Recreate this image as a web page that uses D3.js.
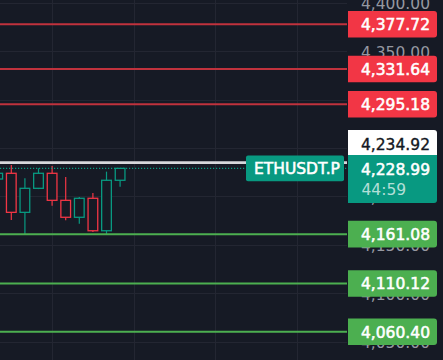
<!DOCTYPE html>
<html>
<head>
<meta charset="utf-8">
<script src="https://cdn.jsdelivr.net/npm/d3@7"></script>
<style>
  html, body { margin: 0; padding: 0; background: #161a25; overflow: hidden; }
  svg { display: block; font-family: "DejaVu Sans", sans-serif; }
</style>
</head>
<body>
<div id="chart"></div>
<script>
const width = 443;
const height = 360;
const plotRight = 347;
const axisLeft = 348;

// hourly candles, ETHUSDT.P
const startTime = new Date(2025, 7, 14, 8, 0);
const opens  = [4218.0, 4223.9, 4183.6, 4208.4, 4223.9, 4196.0, 4178.5, 4198.1, 4164.6, 4216.7];
const highs  = [4225.0, 4232.5, 4218.7, 4229.1, 4231.4, 4220.1, 4199.4, 4203.6, 4225.6, 4229.5];
const lows   = [4216.0, 4175.7, 4161.2, 4207.6, 4190.5, 4175.4, 4171.9, 4163.3, 4160.9, 4210.1];
const closes = [4223.9, 4183.6, 4208.4, 4223.9, 4196.0, 4178.5, 4198.1, 4164.6, 4216.7, 4228.99];

const resistance = [4377.72, 4331.64, 4295.18];
const support = [4161.08, 4110.12, 4060.40];
const markPrice = 4234.92;
const lastPrice = 4228.99;
const symbol = "ETHUSDT.P";
const countdown = "44:59";
const priceTicks = [4400, 4350, 4300, 4250, 4200, 4150, 4100, 4050];

const candles = opens.map((o, i) => ({
  t: d3.timeHour.offset(startTime, i),
  o, h: highs[i], l: lows[i], c: closes[i]
}));

const bg = "#161a25";
const up = "#089981";
const down = "#f23645";
const grid = "#232632";
const fontSize = 15.5;

const barStep = 13.6; // px per hour
const hour = 3600 * 1000;
const firstX = -2.3; // first candle is half cut off at the left edge
const x = d3.scaleTime()
  .domain([new Date(+startTime - (firstX / barStep) * hour),
           new Date(+startTime + ((plotRight - firstX) / barStep) * hour)])
  .range([0, plotRight]);

const y = d3.scaleLinear().domain([4031.17, 4402.8]).range([height, 0]);

const svg = d3.select("#chart").append("svg")
  .attr("width", width).attr("height", height);

svg.append("rect").attr("width", width).attr("height", height).attr("fill", bg);

// grid
svg.append("g").selectAll("line")
  .data(x.ticks(d3.timeHour.every(6)))
  .join("line")
  .attr("x1", d => Math.round(x(d)) + 0.5).attr("x2", d => Math.round(x(d)) + 0.5)
  .attr("y1", 0).attr("y2", height)
  .attr("stroke", grid);

svg.append("g").selectAll("line")
  .data(priceTicks)
  .join("line")
  .attr("x1", 0).attr("x2", plotRight)
  .attr("y1", d => Math.round(y(d)) + 0.5).attr("y2", d => Math.round(y(d)) + 0.5)
  .attr("stroke", grid);

// price axis labels (under the price boxes)
const fmt = d3.format(",.2f");
const yAxis = d3.axisRight(y).tickValues(priceTicks).tickFormat(fmt).tickSize(0).tickPadding(0);
const axisG = svg.append("g")
  .attr("transform", `translate(${430}, 0)`)
  .call(yAxis);
axisG.select(".domain").remove();
axisG.selectAll("text")
  .attr("x", 0)
  .attr("dy", "0.38em")
  .attr("text-anchor", "end")
  .attr("fill", "#9598a1")
  .attr("font-size", fontSize)
  .attr("font-family", "DejaVu Sans, sans-serif");

// candles
const cg = svg.append("g");
const bodyW = 9.7;
cg.selectAll("line")
  .data(candles)
  .join("line")
  .attr("x1", d => x(d.t)).attr("x2", d => x(d.t))
  .attr("y1", d => y(d.h)).attr("y2", d => y(d.l))
  .attr("stroke", d => d.c >= d.o ? up : down)
  .attr("stroke-width", 1.2);
cg.selectAll("rect")
  .data(candles)
  .join("rect")
  .attr("x", d => x(d.t) - bodyW / 2)
  .attr("width", bodyW)
  .attr("y", d => y(Math.max(d.o, d.c)))
  .attr("height", d => Math.max(1, Math.abs(y(d.o) - y(d.c))))
  .attr("fill", bg)
  .attr("stroke", d => d.c >= d.o ? up : down)
  .attr("stroke-width", 1.3);

// mark price line and last price dotted line
svg.append("line")
  .attr("x1", 0).attr("x2", plotRight)
  .attr("y1", y(markPrice)).attr("y2", y(markPrice))
  .attr("stroke", "#d6d7db").attr("stroke-width", 2.7);
svg.append("line")
  .attr("x1", 0).attr("x2", plotRight)
  .attr("y1", y(lastPrice)).attr("y2", y(lastPrice))
  .attr("stroke", up).attr("stroke-width", 1.2)
  .attr("stroke-dasharray", "1.2,1.8");

// horizontal levels
const levels = resistance.map(p => ({ p, line: "#c0323d", box: down }))
  .concat(support.map(p => ({ p, line: "#4caf50", box: "#4caf50" })));

svg.append("g").selectAll("line")
  .data(levels)
  .join("line")
  .attr("x1", 0).attr("x2", plotRight)
  .attr("y1", d => y(d.p)).attr("y2", d => y(d.p))
  .attr("stroke", d => d.line).attr("stroke-width", 2);

// price box: square left corners, rounded right
function boxPath(x0, y0, w, h, rTop, rBot) {
  return `M${x0},${y0}H${x0 + w - rTop}Q${x0 + w},${y0} ${x0 + w},${y0 + rTop}` +
    `V${y0 + h - rBot}Q${x0 + w},${y0 + h} ${x0 + w - rBot},${y0 + h}H${x0}Z`;
}

// slightly heavier label text
function heavy(sel, color) {
  sel.attr("fill", color)
    .attr("stroke", color)
    .attr("stroke-width", 0.55)
    .attr("font-size", fontSize);
}

const boxW = 89;
const boxH = 26.6;
const lg = svg.append("g").selectAll("g")
  .data(levels)
  .join("g");
lg.append("path")
  .attr("d", d => boxPath(axisLeft, y(d.p) - boxH / 2, boxW, boxH, 3, 3))
  .attr("fill", d => d.box);
lg.append("text")
  .attr("x", 430).attr("y", d => y(d.p))
  .attr("dy", "0.38em")
  .attr("text-anchor", "end")
  .call(heavy, "#ffffff")
  .text(d => fmt(d.p));

// mark price box (pushed up above last price box)
svg.append("path")
  .attr("d", boxPath(axisLeft, 130, boxW, 25, 3, 0))
  .attr("fill", "#ffffff");
svg.append("text")
  .attr("x", 430).attr("y", 150)
  .attr("text-anchor", "end")
  .call(heavy, "#131722")
  .attr("stroke-width", 0.35)
  .text(fmt(markPrice));

// last price box with countdown
svg.append("path")
  .attr("d", boxPath(axisLeft, 155, boxW, 48, 0, 3))
  .attr("fill", up);
svg.append("text")
  .attr("x", 430).attr("y", 175)
  .attr("text-anchor", "end")
  .call(heavy, "#ffffff")
  .text(fmt(lastPrice));
svg.append("text")
  .attr("x", 361.5).attr("y", 195)
  .attr("text-anchor", "start")
  .call(heavy, "rgba(255,255,255,0.7)")
  .attr("stroke", "none")
  .text(countdown);

// symbol label
const symW = 98;
svg.append("rect")
  .attr("x", 246).attr("y", y(lastPrice) - 12.8)
  .attr("width", symW).attr("height", 25.6)
  .attr("rx", 2)
  .attr("fill", up);
svg.append("text")
  .attr("x", 254).attr("y", y(lastPrice))
  .attr("dy", "0.38em")
  .call(heavy, "#ffffff")
  .text(symbol);
</script>
</body>
</html>
